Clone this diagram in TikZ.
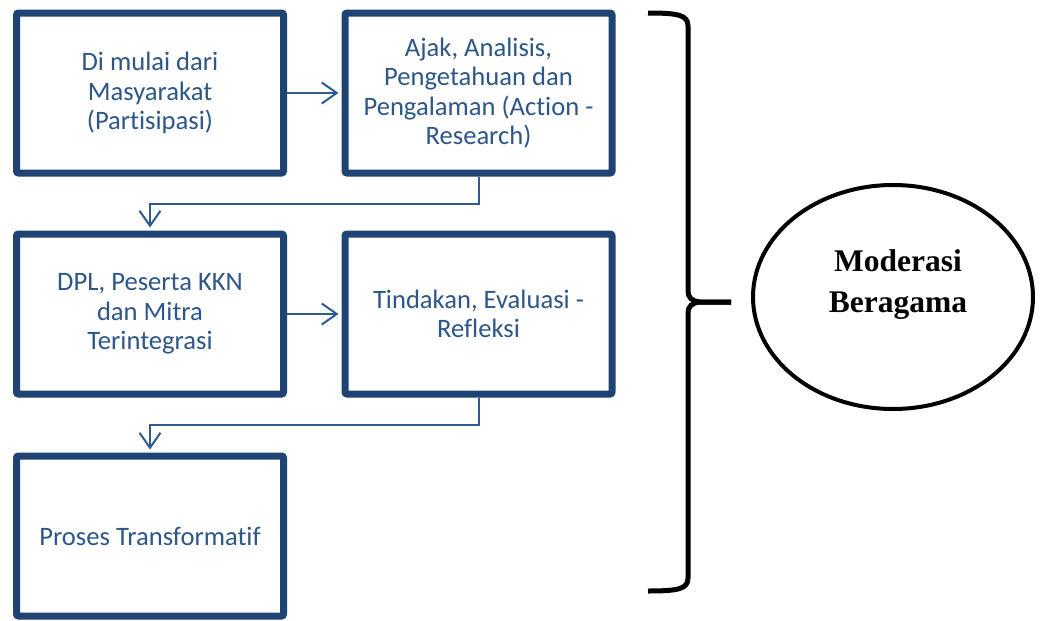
\documentclass[tikz,border=0pt]{standalone}
\usepackage{fontspec}
\setmainfont{Carlito}[Ligatures=NoCommon]
\newfontfamily\titleserif{Liberation Serif}
\usetikzlibrary{arrows.meta,shadows,shapes.geometric}
\definecolor{boxline}{HTML}{1F4373}
\definecolor{boxtext}{HTML}{2D5689}
\definecolor{flowblue}{HTML}{2F5B8F}
\begin{document}
\begin{tikzpicture}[x=1pt,y=-1pt,
  stepbox/.style={draw=boxline, line width=7pt, fill=white, rounded corners=2pt,
    minimum width=267pt, minimum height=160pt, inner sep=0pt,
    text=boxtext, align=center, font=\fontsize{26.6}{29.5}\selectfont,
    drop shadow={shadow xshift=2pt, shadow yshift=-3pt, opacity=0.18, fill=black}},
  flow/.style={draw=flowblue, line width=2pt,
    -{Straight Barb[length=15pt,width=21pt]}, shorten >=3pt},
  bracket/.style={draw=black, line width=5pt}]
  \useasboundingbox (0,0) rectangle (1042,621);

  % process steps
  \node[stepbox] (b1) at (150,93)    {Di mulai dari\\Masyarakat\\(Partisipasi)};
  \node[stepbox] (b2) at (478.5,93)  {Ajak, Analisis,\\Pengetahuan dan\\Pengalaman (Action -\\Research)};
  \node[stepbox] (b3) at (150,314)   {DPL, Peserta KKN\\dan Mitra\\Terintegrasi};
  \node[stepbox] (b4) at (478.5,314) {Tindakan, Evaluasi -\\Refleksi};
  \node[stepbox] (b5) at (150,536)   {Proses Transformatif};

  % flow between the steps
  \draw[flow] (b1.east) -- (b2.west);
  \draw[flow] (b3.east) -- (b4.west);
  \draw[flow] (b2.south) -- ++(0,27) -| (b3.north);
  \draw[flow] (b4.south) -- ++(0,27) -| (b5.north);

  % curly bracket gathering all steps
  \draw[bracket] (648,13) .. controls (678,13) and (688,15) .. (688,26)
    -- (688,291) .. controls (688,298) and (692,301) .. (700,302) -- (731,302);
  \draw[bracket] (731,302) -- (700,302) .. controls (692,303) and (688,306) .. (688,313)
    -- (688,578) .. controls (688,589) and (678,591) .. (648,591);

  % outcome
  \node[ellipse, draw=black, line width=4pt, minimum width=280pt,
    minimum height=224pt, inner sep=0pt] (goal) at (893,297) {};
  \node[align=center, inner sep=0pt,
    font=\titleserif\bfseries\fontsize{31.5}{41}\selectfont] (goaltext)
    at (898,285) {Moderasi\\Beragama};
\end{tikzpicture}
\end{document}
